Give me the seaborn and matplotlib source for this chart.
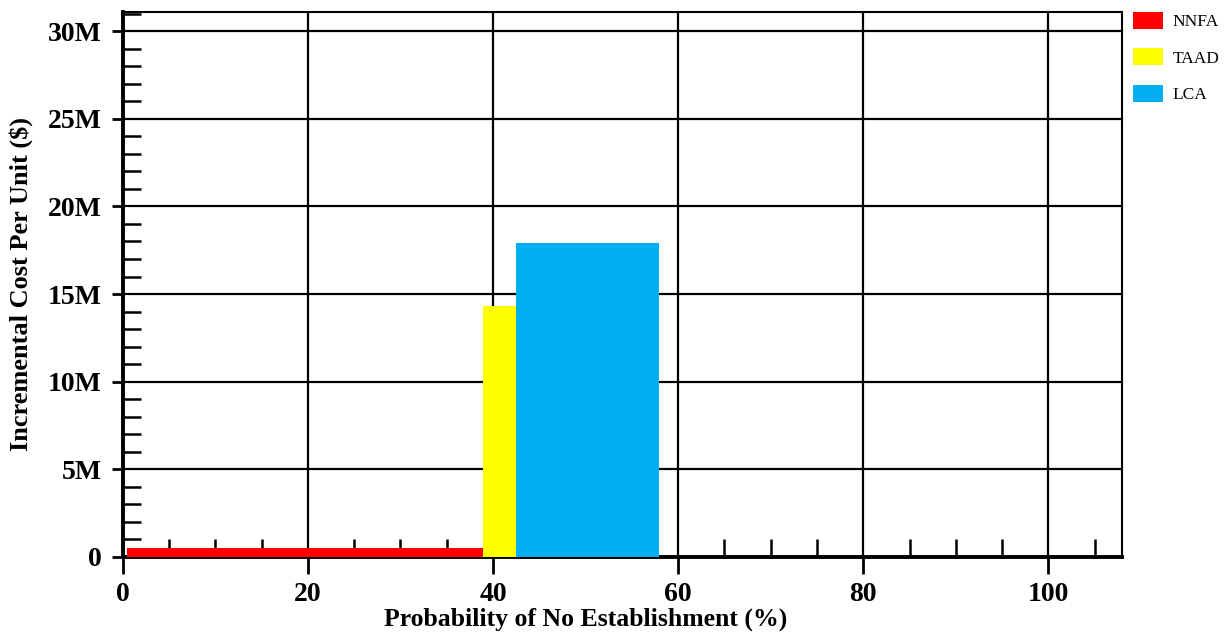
import matplotlib
matplotlib.use("Agg")
import matplotlib.pyplot as plt
from matplotlib.patches import Patch
from matplotlib.ticker import MultipleLocator, FuncFormatter
import seaborn as sns
import pandas as pd

# Strategies, the probability range each one covers, and its incremental cost per unit
strategies = ["NNFA", "TAAD", "LCA"]
prob_start = [0.4, 38.9, 42.5]
prob_end = [38.9, 42.5, 57.9]
incremental_cost = [0.5e6, 14.3e6, 17.9e6]
colors = ["#ff0000", "#ffff00", "#00b0f0"]

x_ticks = [0, 20, 40, 60, 80, 100]
y_ticks = [0, 5e6, 10e6, 15e6, 20e6, 25e6, 30e6]

sns.set_style("white", {"xtick.bottom": True, "ytick.left": True,
                        "text.color": "black", "axes.labelcolor": "black",
                        "xtick.color": "black", "ytick.color": "black"})
plt.rcParams["font.family"] = ["Liberation Serif", "DejaVu Serif"]

df = pd.DataFrame({
    "strategy": strategies,
    "mid": [(a + b) / 2 for a, b in zip(prob_start, prob_end)],
    "cost": incremental_cost,
})
edges = [prob_start[0]] + prob_end

fig = plt.figure(figsize=(12.28, 6.32), dpi=100)
ax = fig.add_axes([0.100, 0.119, 0.814, 0.862])

sns.histplot(data=df, x="mid", weights="cost", hue="strategy", bins=edges,
             palette=dict(zip(strategies, colors)), hue_order=strategies,
             element="bars", fill=True, alpha=1, linewidth=0, legend=False, ax=ax,
             zorder=3)

ax.set_xlim(0, 108)
ax.set_ylim(0, 31.1e6)

ax.set_xticks(x_ticks)
ax.set_yticks(y_ticks)
ax.xaxis.set_minor_locator(MultipleLocator(5))
ax.yaxis.set_minor_locator(MultipleLocator(1e6))
ax.yaxis.set_major_formatter(FuncFormatter(lambda v, p: "0" if v == 0 else f"{v/1e6:.0f}M"))

ax.grid(True, which="major", color="black", linewidth=1.6, zorder=1)
ax.grid(False, which="minor")
ax.set_axisbelow(True)

ax.tick_params(axis="both", which="major", direction="out", length=8, width=2,
               color="black", labelcolor="black", labelsize=20, pad=7,
               bottom=True, left=True, top=False, right=False)
ax.tick_params(axis="both", which="minor", direction="in", length=13, width=1.8,
               color="black", bottom=True, left=True, top=False, right=False)
ax.tick_params(axis="x", which="major", length=12, pad=6)
for lab in ax.get_xticklabels() + ax.get_yticklabels():
    lab.set_fontweight("bold")

for side in ["left", "bottom"]:
    ax.spines[side].set_linewidth(2.8)
    ax.spines[side].set_color("black")
for side in ["top", "right"]:
    ax.spines[side].set_linewidth(1.5)
    ax.spines[side].set_color("black")

ax.set_xlabel("Probability of No Establishment (%)", fontsize=18.5, fontweight="bold", color="black")
ax.set_ylabel("Incremental Cost Per Unit ($)", fontsize=19, fontweight="bold", color="black")
ax.xaxis.set_label_coords(0.4635, -0.1156)
ax.xaxis.label.set_va("center")
ax.yaxis.set_label_coords(-0.102, 0.5)
ax.yaxis.label.set_va("center")

handles = [Patch(facecolor=c, edgecolor="none", label=s) for s, c in zip(strategies, colors)]
fig.legend(handles=handles, loc="upper left", bbox_to_anchor=(0.9226, 0.981), frameon=False,
           fontsize=12.5, handlelength=1.75, handleheight=1.1, labelspacing=1.05, handletextpad=0.55,
           borderaxespad=0, borderpad=0, labelcolor="black")

fig.savefig("out.png", dpi=100)
